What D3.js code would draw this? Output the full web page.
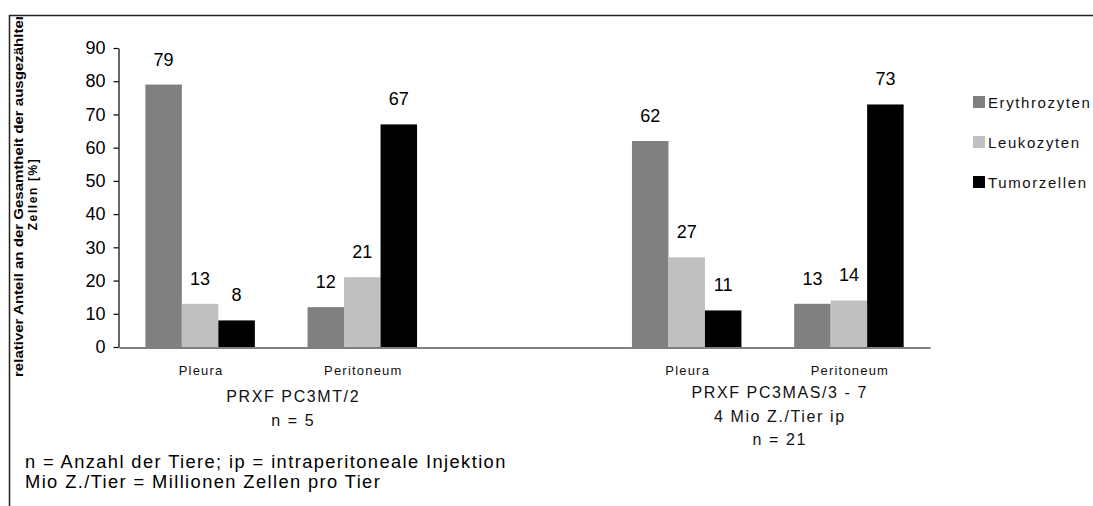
<!DOCTYPE html>
<html>
<head>
<meta charset="utf-8">
<script src="https://cdn.jsdelivr.net/npm/d3@7"></script>
<style>
  html, body { margin: 0; padding: 0; background: #fff; }
  svg { display: block; }
</style>
</head>
<body>
<script>
// Category slots along the x axis (one empty slot separates the two groups)
const slotKeys = ["A-Pleura", "A-Peritoneum", "gap", "B-Pleura", "B-Peritoneum"];
const slotLabels = ["Pleura", "Peritoneum", "", "Pleura", "Peritoneum"];

// Series
const seriesNames = ["Erythrozyten", "Leukozyten", "Tumorzellen"];
const seriesColors = ["#808080", "#c0c0c0", "#000000"];
const erythrozyten = [79, 12, null, 62, 13];
const leukozyten = [13, 21, null, 27, 14];
const tumorzellen = [8, 67, null, 11, 73];

// Axis ticks
const yTicks = [0, 10, 20, 30, 40, 50, 60, 70, 80, 90];

// Group captions under the category labels
const groupSlots = [["A-Pleura", "A-Peritoneum"], ["B-Pleura", "B-Peritoneum"]];
const groupLines = [
  ["PRXF PC3MT/2", "n = 5"],
  ["PRXF PC3MAS/3 - 7", "4 Mio Z./Tier ip", "n = 21"]
];

const yTitleLines = ["relativer Anteil an der Gesamtheit der ausgezählten", "Zellen [%]"];
const footnotes = [
  "n = Anzahl der Tiere; ip = intraperitoneale Injektion",
  "Mio Z./Tier = Millionen Zellen pro Tier"
];

const W = 1093, H = 506;
const svg = d3.select("body").append("svg").attr("width", W).attr("height", H);

// outer frame (top and left edges visible)
svg.append("path")
  .attr("d", `M9.5,${H} L9.5,15.5 L${W},15.5`)
  .attr("fill", "none").attr("stroke", "#222").attr("stroke-width", 1.5);

const x0 = d3.scaleBand().domain(slotKeys).range([119, 930]);
const x1 = d3.scaleBand().domain(seriesNames).range([-54.75, 54.75]);
const y = d3.scaleLinear().domain([0, 90]).range([347, 48]);
const color = d3.scaleOrdinal().domain(seriesNames).range(seriesColors);

const seriesValues = [erythrozyten, leukozyten, tumorzellen];
const bars = [];
slotKeys.forEach((k, i) => {
  seriesNames.forEach((s, j) => {
    const v = seriesValues[j][i];
    if (v != null) bars.push({ slot: k, series: s, value: v });
  });
});

const cx = k => x0(k) + x0.bandwidth() / 2;

// bars
svg.append("g").selectAll("rect").data(bars).join("rect")
  .attr("x", d => cx(d.slot) + x1(d.series))
  .attr("y", d => y(d.value))
  .attr("width", x1.bandwidth())
  .attr("height", d => y(0) - y(d.value))
  .attr("fill", d => color(d.series));

// value labels
svg.append("g").selectAll("text").data(bars).join("text")
  .attr("x", d => cx(d.slot) + x1(d.series) + x1.bandwidth() / 2)
  .attr("y", d => y(d.value) - 19)
  .attr("text-anchor", "middle")
  .attr("font-family", "Liberation Sans, Arial, sans-serif")
  .attr("font-size", 18)
  .attr("fill", "#000")
  .text(d => d.value);

// y axis
const yAxis = svg.append("g").attr("transform", "translate(118.5,0)")
  .call(d3.axisLeft(y).tickValues(yTicks).tickSize(5).tickPadding(8).tickSizeOuter(0));
yAxis.selectAll("text").attr("font-family", "Liberation Sans, Arial, sans-serif")
  .attr("font-size", 18).attr("fill", "#000");
yAxis.selectAll("line, path").attr("stroke", "#000").attr("stroke-width", 1.2);

// x axis (baseline only)
const xAxis = svg.append("g").attr("transform", `translate(0,${y(0) + 0.5})`)
  .call(d3.axisBottom(x0).tickSize(0).tickSizeOuter(0).tickFormat(""));
xAxis.select("path").attr("stroke", "#000").attr("stroke-width", 1.2);

// category labels
svg.append("g").selectAll("text").data(slotKeys.map((k, i) => ({ k, label: slotLabels[i] })))
  .join("text")
  .attr("x", d => cx(d.k) + 1)
  .attr("y", 375)
  .attr("text-anchor", "middle")
  .attr("font-family", "Liberation Sans, Arial, sans-serif")
  .attr("font-size", 13)
  .attr("letter-spacing", 1.2)
  .attr("fill", "#111")
  .text(d => d.label);

// group captions
const groupBase = [[402, 426], [398, 422, 445]];
groupLines.forEach((lines, gi) => {
  const [a, b] = groupSlots[gi];
  const mid = (cx(a) + cx(b)) / 2 + 12;
  svg.append("g").selectAll("text").data(lines).join("text")
    .attr("x", mid)
    .attr("y", (d, li) => groupBase[gi][li])
    .attr("text-anchor", "middle")
    .attr("font-family", "Liberation Sans, Arial, sans-serif")
    .attr("font-size", 16)
    .attr("letter-spacing", 1.6)
    .attr("fill", "#111")
    .text(d => d);
});

// y axis title (clipped by the frame)
svg.append("clipPath").attr("id", "frameClip")
  .append("rect").attr("x", 10).attr("y", 17).attr("width", W).attr("height", H);
const yt = svg.append("g").attr("clip-path", "url(#frameClip)");
const titleX = [23, 37];
yTitleLines.forEach((t, i) => {
  const tx = yt.append("text")
    .attr("transform", `translate(${titleX[i]},194) rotate(-90)`)
    .attr("text-anchor", "middle")
    .attr("font-family", "Liberation Sans Narrow, Arial Narrow, Liberation Sans, sans-serif")
    .attr("font-weight", "bold")
    .attr("font-size", 12)
    .attr("fill", "#000")
    .text(t);
  if (i === 0) tx.attr("textLength", 366).attr("lengthAdjust", "spacingAndGlyphs");
  else tx.attr("letter-spacing", 1.6);
});

// legend
const legend = svg.append("g").selectAll("g").data(seriesNames).join("g")
  .attr("transform", (d, i) => `translate(973,${102 + i * 40})`);
legend.append("rect")
  .attr("x", 0).attr("y", -6).attr("width", 12).attr("height", 12)
  .attr("fill", d => color(d));
legend.append("text")
  .attr("x", 15).attr("y", 6)
  .attr("font-family", "Liberation Sans, Arial, sans-serif")
  .attr("font-size", 15)
  .attr("letter-spacing", 1.6)
  .attr("fill", "#111")
  .text(d => d);

// footnotes
svg.append("g").selectAll("text").data(footnotes).join("text")
  .attr("x", 25)
  .attr("y", (d, i) => 468 + i * 20)
  .attr("font-family", "Liberation Sans, Arial, sans-serif")
  .attr("font-size", 18.3)
  .attr("letter-spacing", 1.4)
  .attr("fill", "#000")
  .text(d => d);
</script>
</body>
</html>
